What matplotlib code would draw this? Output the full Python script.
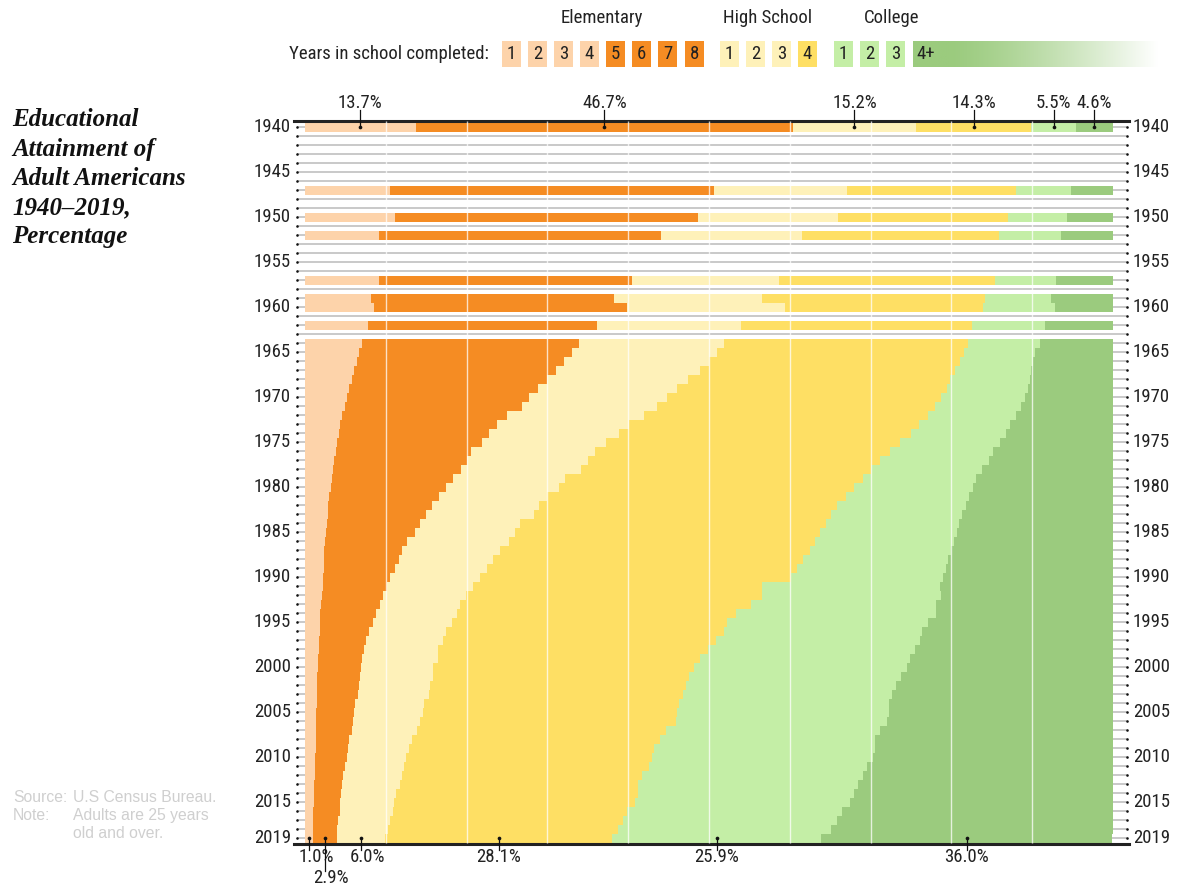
import numpy as np
import matplotlib
matplotlib.use("Agg")
import matplotlib.pyplot as plt
from matplotlib import font_manager as fm
from matplotlib.patches import Rectangle

# ---------------- data (percent of adults 25+) ----------------
years = [1940, 1947, 1950, 1952, 1957, 1959, 1960, 1962] + list(range(1964, 2020))

elem_1_4 = [13.7, 10.5, 11.2, 9.1, 9.1, 8.2, 8.5, 7.8,
            7.1, 6.7, 6.4, 6.1, 5.8, 5.5, 5.2, 4.9, 4.6, 4.3, 4.2, 3.9, 3.8, 3.6, 3.5, 3.3,
            3.2, 3.0, 2.9, 2.8, 2.7, 2.6, 2.5, 2.4, 2.3, 2.3, 2.2, 2.2, 2.1, 2.0, 1.9, 1.9,
            1.8, 1.7, 1.7, 1.6, 1.6, 1.5, 1.5, 1.5, 1.5, 1.4, 1.4, 1.4, 1.3, 1.3, 1.2, 1.2,
            1.2, 1.1, 1.1, 1.1, 1.0, 1.0, 1.0, 1.0]
elem_5_8 = [46.7, 40.1, 37.4, 34.9, 31.4, 30.0, 31.4, 28.4,
            26.8, 26.4, 25.6, 25.0, 24.1, 23.3, 22.5, 21.9, 20.4, 19.5, 18.6, 18.0, 16.8, 16.4, 15.8, 15.0,
            14.2, 13.6, 12.8, 12.2, 11.5, 11.0, 10.1, 9.6, 9.3, 8.8, 8.3, 7.9, 7.6, 7.3, 6.9, 6.5,
            6.1, 5.9, 5.6, 5.5, 5.3, 5.3, 5.2, 5.1, 4.7, 4.7, 4.5, 4.4, 4.2, 4.0, 4.0, 3.8,
            3.5, 3.5, 3.4, 3.2, 3.3, 3.1, 2.9, 2.9]
high_1_3 = [15.2, 16.5, 17.4, 17.5, 18.2, 18.3, 19.5, 17.7,
            18.0, 17.9, 18.0, 17.8, 17.5, 17.2, 17.1, 16.8, 16.9, 16.3, 16.1, 15.4, 15.3, 15.0, 14.9, 13.9,
            14.0, 13.3, 13.3, 13.3, 12.4, 12.4, 12.6, 12.1, 11.7, 11.4, 11.2, 10.7, 10.2, 9.9, 10.0, 9.8,
            9.6, 9.5, 9.2, 9.3, 9.0, 9.0, 8.8, 8.7, 8.5, 8.5, 8.3, 8.1, 7.8, 7.6, 7.3, 7.3,
            7.3, 7.1, 6.8, 6.7, 6.6, 6.4, 6.4, 6.0]
high_4 = [14.3, 20.9, 21.0, 24.4, 26.7, 27.6, 24.5, 28.6,
          30.1, 30.6, 31.1, 31.5, 32.4, 33.4, 33.9, 34.4, 35.2, 35.9, 36.1, 36.3, 36.5, 36.2, 35.9, 36.8,
          36.5, 37.1, 36.8, 36.8, 37.9, 37.7, 37.9, 38.4, 38.3, 38.4, 38.4, 35.8, 36.7, 36.0, 34.6, 34.0,
          34.3, 33.8, 33.4, 32.5, 32.2, 31.7, 31.7, 31.5, 31.6, 31.5, 31.7, 30.8, 30.6, 30.3, 30.4, 30.3,
          29.7, 29.5, 29.9, 29.8, 28.9, 28.8, 28.4, 28.1]
college_1_3 = [5.5, 6.8, 7.3, 7.7, 7.6, 8.2, 8.9, 9.1,
               9.0, 8.7, 9.0, 9.5, 9.9, 10.1, 10.4, 10.6, 10.9, 11.3, 11.8, 12.4, 12.8, 13.4, 13.7, 14.0,
               14.8, 15.2, 16.0, 16.2, 16.4, 17.0, 17.2, 17.5, 18.0, 18.4, 18.8, 22.0, 22.1, 22.9, 24.7, 24.9,
               24.6, 25.2, 25.6, 26.0, 26.4, 26.3, 25.9, 25.9, 26.0, 26.2, 26.1, 26.5, 26.6, 27.3, 27.4, 27.0,
               27.3, 27.3, 26.7, 26.7, 26.7, 26.6, 26.4, 25.9]
college_4 = [4.6, 5.2, 5.7, 6.4, 7.0, 7.7, 7.2, 8.4,
             9.0, 9.7, 9.9, 10.1, 10.3, 10.5, 10.9, 11.4, 12.0, 12.7, 13.2, 14.0, 14.8, 15.4, 16.2, 17.0,
             17.3, 17.8, 18.2, 18.7, 19.1, 19.3, 19.7, 20.0, 20.4, 20.7, 21.1, 21.4, 21.3, 21.9, 21.9, 22.9,
             23.6, 23.9, 24.5, 25.1, 25.5, 26.2, 26.9, 27.3, 27.7, 27.7, 28.0, 28.8, 29.5, 29.5, 29.7, 30.4,
             31.0, 31.5, 32.1, 32.5, 33.5, 34.1, 34.9, 36.0]

series = [elem_1_4, elem_5_8, high_1_3, high_4, college_1_3, college_4]
colors = ["#FDD3AA", "#F58C23", "#FEF1B9", "#FEDF64", "#C4EEA6", "#9BCB7E"]

legend_groups = ["Elementary", "High School", "College"]
legend_digits = ["1", "2", "3", "4", "5", "6", "7", "8", "1", "2", "3", "4", "1", "2", "3", "4+"]
year_tick_labels = [1940, 1945, 1950, 1955, 1960, 1965, 1970, 1975, 1980, 1985, 1990,
                    1995, 2000, 2005, 2010, 2015, 2019]

# ---------------- fonts ----------------
names = {f.name for f in fm.fontManager.ttflist}
COND = None
COND_STRETCH = "normal"
for cand in ["Roboto Condensed", "Liberation Sans Narrow", "Noto Sans Condensed",
             "Open Sans Condensed"]:
    if cand in names:
        COND = cand
        break
if COND is None:
    COND = "Roboto"

SANS = dict(family=[COND, "DejaVu Sans"], stretch=COND_STRETCH)
SERIF = "Liberation Serif" if "Liberation Serif" in names else "DejaVu Serif"
FS = 13.5

# ---------------- figure ----------------
W, H = 1177, 888
fig = plt.figure(figsize=(W / 100, H / 100), dpi=100)
fig.patch.set_facecolor("white")


def fx(px):
    return px / W


def fy(py):
    return 1 - py / H


X0, X100 = 305, 1113
ppx = (X100 - X0) / 100.0
Y1940, ppy = 127.0, 9.0
AL, AR, AT, AB = 294, 1129, 120.5, 843.5

ax = fig.add_axes([fx(AL), fy(AB), (AR - AL) / W, (AB - AT) / H])
ax.set_xlim((AL - X0) / ppx, (AR - X0) / ppx)
ax.set_ylim(1940 + (AB - Y1940) / ppy, 1940 + (AT - Y1940) / ppy)
ax.set_xticks([])
ax.set_yticks([])
for s in ["left", "right"]:
    ax.spines[s].set_visible(False)
for s in ["top", "bottom"]:
    ax.spines[s].set_linewidth(2.2)
    ax.spines[s].set_color("#222222")

all_years = np.arange(1940, 2020)
xdot_l = (297 - X0) / ppx
xdot_r = (1127 - X0) / ppx

# empty-year rules
ax.hlines(all_years, xdot_l, xdot_r, color="#c9c9c9", lw=1.4, zorder=1)

# stacked bars
data = np.array(series, dtype=float)
lefts = np.vstack([np.zeros(data.shape[1]), np.cumsum(data, axis=0)[:-1]])
for i in range(data.shape[0]):
    ax.barh(years, data[i], left=lefts[i], height=1.0, color=colors[i],
            linewidth=0, zorder=2)

# white vertical grid
ax.vlines(np.arange(10, 100, 10), 1939.3, 2019.6, color="white", lw=1.0, alpha=0.75, zorder=3)

# tick dots
ax.scatter(np.full(all_years.size, xdot_l), all_years, s=3.5, color="#111111",
           zorder=5, clip_on=False, linewidths=0)
ax.scatter(np.full(all_years.size, xdot_r), all_years, s=3.5, color="#111111",
           zorder=5, clip_on=False, linewidths=0)

# year labels
for y in year_tick_labels:
    ax.text((291 - X0) / ppx, y, str(y), ha="right", va="center", fontsize=FS,
            color="#222222", **SANS)
    ax.text((1133 - X0) / ppx, y, str(y), ha="left", va="center", fontsize=FS,
            color="#222222", **SANS)

# annotations for first year (top)
i0 = years.index(1940)
y_lab_top = 1940 + (103 - Y1940) / ppy
for i in range(data.shape[0]):
    v = data[i, i0]
    cx = lefts[i, i0] + v / 2
    ax.plot([cx, cx], [1940, y_lab_top + 0.8], color="#111111", lw=0.9, zorder=6, clip_on=False)
    ax.scatter([cx], [1940], s=7, color="#111111", zorder=7, clip_on=False, linewidths=0)
    ax.text(cx, y_lab_top, f"{v:.1f}%", ha="center", va="center", fontsize=FS,
            color="#222222", **SANS)

# annotations for last year (bottom)
i1 = years.index(2019)
label_dx_px = [7, 6, 7, 0, 0, 0]
label_y_px = [857, 878, 857, 857, 857, 857]
for i in range(data.shape[0]):
    v = data[i, i1]
    cx = lefts[i, i1] + v / 2
    ly = 2019 + (label_y_px[i] - 838) / ppy
    ax.plot([cx, cx], [2019, ly - 0.8], color="#111111", lw=0.9, zorder=6, clip_on=False)
    ax.scatter([cx], [2019], s=7, color="#111111", zorder=7, clip_on=False, linewidths=0)
    ax.text(cx + label_dx_px[i] / ppx, ly, f"{v:.1f}%", ha="center", va="center",
            fontsize=FS, color="#222222", **SANS)

# ---------------- legend ----------------
fig.text(fx(489), fy(54), "Years in school completed:", ha="right", va="center",
         fontsize=FS, color="#222222", **SANS)
box_x = [502, 528, 554, 580, 606, 632, 658, 685, 720, 746, 772, 798, 834, 860, 886]
box_cols = [colors[0]] * 4 + [colors[1]] * 4 + [colors[2]] * 3 + [colors[3]] + [colors[4]] * 3
bw, bt, bb = 19, 41, 67
for x, c, d in zip(box_x, box_cols, legend_digits[:15]):
    fig.add_artist(Rectangle((fx(x), fy(bb)), bw / W, (bb - bt) / H,
                             transform=fig.transFigure, facecolor=c, edgecolor="none"))
    fig.text(fx(x + bw / 2), fy(54), d, ha="center", va="center", fontsize=FS,
             color="#222222", **SANS)

# gradient box for 4+
gx0, gx1 = 913, 1158
gax = fig.add_axes([fx(gx0), fy(bb), (gx1 - gx0) / W, (bb - bt) / H])
t = np.linspace(0, 1, 300)
mix = np.clip((t - 0.15) / 0.85, 0, 1) ** 1.3
g = np.array(matplotlib.colors.to_rgb(colors[5]))
row = g[None, :] * (1 - mix[:, None]) + np.ones(3)[None, :] * mix[:, None]
gax.imshow(row[None, :, :], aspect="auto", extent=[0, 1, 0, 1])
gax.axis("off")
fig.text(fx(gx0 + 3), fy(54), legend_digits[15], ha="left", va="center", fontsize=FS,
         color="#222222", **SANS)

group_cx = [602, 768, 892]
for name, cx in zip(legend_groups, group_cx):
    fig.text(fx(cx), fy(18), name, ha="center", va="center", fontsize=FS,
             color="#222222", **SANS)

# ---------------- title ----------------
title_lines = ["Educational", "Attainment of", "Adult Americans", "1940\u20132019,", "Percentage"]
for k, line in enumerate(title_lines):
    fig.text(fx(12), fy(120 + 29.2 * k), line, ha="left", va="center", fontsize=18,
             fontweight="bold", fontstyle="italic", family=SERIF, color="#111111")

# ---------------- source note ----------------
note_col = "#cfcfcf"
fs = 11.3
fig.text(fx(13), fy(797), "Source:", ha="left", va="center", fontsize=fs, color=note_col,
         family="Liberation Sans")
fig.text(fx(73), fy(797), "U.S Census Bureau.", ha="left", va="center", fontsize=fs,
         color=note_col, family="Liberation Sans")
fig.text(fx(13), fy(815), "Note:", ha="left", va="center", fontsize=fs, color=note_col,
         family="Liberation Sans")
fig.text(fx(73), fy(815), "Adults are 25 years", ha="left", va="center", fontsize=fs,
         color=note_col, family="Liberation Sans")
fig.text(fx(73), fy(833), "old and over.", ha="left", va="center", fontsize=fs,
         color=note_col, family="Liberation Sans")

fig.savefig("out.png", dpi=100, facecolor="white")
